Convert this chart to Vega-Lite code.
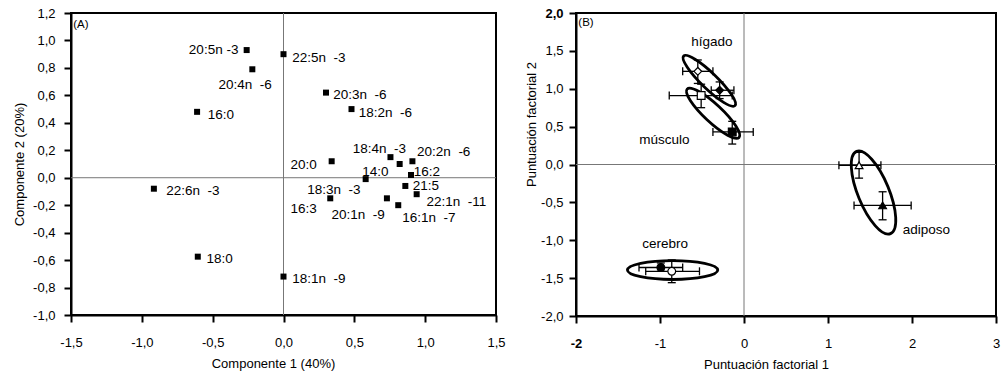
{
  "$schema": "https://vega.github.io/schema/vega-lite/v6.json",
  "padding": {"left": 12, "top": 6, "right": 2, "bottom": 2},
  "spacing": 17,
  "datasets": {
    "acidos": [
      {"acido": "20:5n -3", "c1": -0.26, "c2": 0.93, "lx": -0.668, "ly": 0.93},
      {"acido": "20:4n\u00a0 -6", "c1": -0.22, "c2": 0.79, "lx": -0.459, "ly": 0.678},
      {"acido": "22:5n\u00a0 -3", "c1": 0.0, "c2": 0.9, "lx": 0.061, "ly": 0.872},
      {"acido": "20:3n\u00a0 -6", "c1": 0.3, "c2": 0.62, "lx": 0.351, "ly": 0.605},
      {"acido": "18:2n\u00a0 -6", "c1": 0.48, "c2": 0.5, "lx": 0.531, "ly": 0.472},
      {"acido": "16:0", "c1": -0.61, "c2": 0.48, "lx": -0.534, "ly": 0.46},
      {"acido": "20:0", "c1": 0.34, "c2": 0.12, "lx": 0.049, "ly": 0.091},
      {"acido": "18:4n\u00a0 -3", "c1": 0.755, "c2": 0.15, "lx": 0.489, "ly": 0.212},
      {"acido": "14:0", "c1": 0.82, "c2": 0.1, "lx": 0.555, "ly": 0.04},
      {"acido": "20:2n\u00a0 -6", "c1": 0.91, "c2": 0.12, "lx": 0.943, "ly": 0.188},
      {"acido": "18:3n\u00a0 -3", "c1": 0.58, "c2": -0.01, "lx": 0.167, "ly": -0.086},
      {"acido": "16:2", "c1": 0.9, "c2": 0.02, "lx": 0.92, "ly": 0.043},
      {"acido": "21:5", "c1": 0.86, "c2": -0.06, "lx": 0.913, "ly": -0.057},
      {"acido": "22:1n\u00a0 -11", "c1": 0.94, "c2": -0.12, "lx": 1.009, "ly": -0.175},
      {"acido": "20:1n\u00a0 -9", "c1": 0.73, "c2": -0.15, "lx": 0.339, "ly": -0.273},
      {"acido": "16:1n\u00a0 -7", "c1": 0.81, "c2": -0.2, "lx": 0.838, "ly": -0.292},
      {"acido": "16:3", "c1": 0.33, "c2": -0.15, "lx": 0.049, "ly": -0.226},
      {"acido": "22:6n\u00a0 -3", "c1": -0.915, "c2": -0.08, "lx": -0.828, "ly": -0.098},
      {"acido": "18:0", "c1": -0.605, "c2": -0.575, "lx": -0.543, "ly": -0.59},
      {"acido": "18:1n\u00a0 -9", "c1": 0.0, "c2": -0.72, "lx": 0.061, "ly": -0.735}
    ],
    "factores": [
      {"tejido": "hígado", "grupo": "2", "f1": -0.55, "f2": 1.23, "f1lo": -0.73, "f1hi": -0.37, "f2lo": 1.07, "f2hi": 1.38},
      {"tejido": "hígado", "grupo": "1", "f1": -0.29, "f2": 0.98, "f1lo": -0.39, "f1hi": -0.12, "f2lo": 0.87, "f2hi": 1.09},
      {"tejido": "músculo", "grupo": "2", "f1": -0.51, "f2": 0.91, "f1lo": -0.89, "f1hi": -0.14, "f2lo": 0.75, "f2hi": 1.06},
      {"tejido": "músculo", "grupo": "1", "f1": -0.14, "f2": 0.43, "f1lo": -0.37, "f1hi": 0.11, "f2lo": 0.27, "f2hi": 0.57},
      {"tejido": "adiposo", "grupo": "2", "f1": 1.37, "f2": -0.01, "f1lo": 1.13, "f1hi": 1.63, "f2lo": -0.18, "f2hi": 0.16},
      {"tejido": "adiposo", "grupo": "1", "f1": 1.65, "f2": -0.54, "f1lo": 1.31, "f1hi": 1.99, "f2lo": -0.73, "f2hi": -0.36},
      {"tejido": "cerebro", "grupo": "1", "f1": -0.99, "f2": -1.36, "f1lo": -1.25, "f1hi": -0.73, "f2lo": -1.41, "f2hi": -1.3},
      {"tejido": "cerebro", "grupo": "2", "f1": -0.86, "f2": -1.41, "f1lo": -1.17, "f1hi": -0.53, "f2lo": -1.56, "f2hi": -1.26}
    ],
    "elipses": [
      {"tejido": "hígado", "f1": -0.413, "f2": 1.105},
      {"tejido": "músculo", "f1": -0.368, "f2": 0.676},
      {"tejido": "adiposo", "f1": 1.542, "f2": -0.37},
      {"tejido": "cerebro", "f1": -0.85, "f2": -1.393}
    ],
    "rotulosB": [
      {"texto": "hígado", "f1": -0.383, "f2": 1.622},
      {"texto": "músculo", "f1": -0.949, "f2": 0.323},
      {"texto": "adiposo", "f1": 2.17, "f2": -0.865},
      {"texto": "cerebro", "f1": -0.939, "f2": -1.053}
    ]
  },
  "hconcat": [
    {
      "width": 425,
      "height": 302,
      "layer": [
        {
          "data": {"values": [{"cero": 0}]},
          "mark": {"type": "rule", "color": "#777777", "strokeWidth": 1},
          "encoding": {
            "x": {"field": "cero", "type": "quantitative", "scale": {"domain": [-1.5, 1.5], "nice": false, "zero": false}}
          }
        },
        {
          "data": {"values": [{"cero": 0}]},
          "mark": {"type": "rule", "color": "#777777", "strokeWidth": 1},
          "encoding": {
            "y": {"field": "cero", "type": "quantitative", "scale": {"domain": [-1.0, 1.2], "nice": false, "zero": false}}
          }
        },
        {
          "data": {"name": "acidos"},
          "mark": {"type": "point", "shape": "square", "filled": true, "color": "black", "size": 36, "opacity": 1},
          "encoding": {
            "x": {
              "field": "c1", "type": "quantitative",
              "scale": {"domain": [-1.5, 1.5], "nice": false, "zero": false},
              "axis": {
                "title": "Componente 1 (40%)",
                "values": [-1.5, -1, -0.5, 0, 0.5, 1, 1.5],
                "tickCount": 20,
                "labelExpr": "replace(replace(format(datum.value, '.1f'), '.', ','), '\u2212', '-')",
                "labelPadding": 14,
                "titlePadding": 8,
                "titleX": 202
              }
            },
            "y": {
              "field": "c2", "type": "quantitative",
              "scale": {"domain": [-1.0, 1.2], "nice": false, "zero": false},
              "axis": {
                "title": "Componente 2 (20%)",
                "values": [-1, -0.8, -0.6, -0.4, -0.2, 0, 0.2, 0.4, 0.6, 0.8, 1, 1.2],
                "tickCount": 20,
                "labelExpr": "replace(replace(format(datum.value, '.1f'), '.', ','), '\u2212', '-')",
                "labelPadding": 9,
                "titlePadding": 6
              }
            }
          }
        },
        {
          "data": {"name": "acidos"},
          "mark": {"type": "text", "align": "left", "baseline": "middle", "fontSize": 13.5, "color": "black"},
          "encoding": {
            "x": {"field": "lx", "type": "quantitative"},
            "y": {"field": "ly", "type": "quantitative"},
            "text": {"field": "acido"}
          }
        },
        {
          "data": {"values": [{"panel": "(A)", "px": -1.484, "py": 1.114}]},
          "mark": {"type": "text", "align": "left", "baseline": "middle", "fontSize": 11.5, "color": "black"},
          "encoding": {
            "x": {"field": "px", "type": "quantitative"},
            "y": {"field": "py", "type": "quantitative"},
            "text": {"field": "panel"}
          }
        }
      ]
    },
    {
      "width": 420,
      "height": 303,
      "layer": [
        {
          "data": {"values": [{"cero": 0}]},
          "mark": {"type": "rule", "color": "#777777", "strokeWidth": 1},
          "encoding": {
            "x": {"field": "cero", "type": "quantitative", "scale": {"domain": [-2, 3], "nice": false, "zero": false}}
          }
        },
        {
          "data": {"values": [{"cero": 0}]},
          "mark": {"type": "rule", "color": "#777777", "strokeWidth": 1},
          "encoding": {
            "y": {"field": "cero", "type": "quantitative", "scale": {"domain": [-2, 2], "nice": false, "zero": false}}
          }
        },
        {
          "data": {"name": "elipses"},
          "transform": [{"filter": "datum.tejido == 'hígado'"}],
          "mark": {"type": "point", "shape": "M -1 0 A 1 0.22 0 1 1 1 0 A 1 0.22 0 1 1 -1 0 Z", "size": 5100, "angle": 44, "filled": false, "stroke": "black", "strokeWidth": 2.8, "opacity": 1},
          "encoding": {
            "x": {"field": "f1", "type": "quantitative"},
            "y": {"field": "f2", "type": "quantitative"}
          }
        },
        {
          "data": {"name": "elipses"},
          "transform": [{"filter": "datum.tejido == 'músculo'"}],
          "mark": {"type": "point", "shape": "M -1 0 A 1 0.25 0 1 1 1 0 A 1 0.25 0 1 1 -1 0 Z", "size": 5040, "angle": 43, "filled": false, "stroke": "black", "strokeWidth": 2.8, "opacity": 1},
          "encoding": {
            "x": {"field": "f1", "type": "quantitative"},
            "y": {"field": "f2", "type": "quantitative"}
          }
        },
        {
          "data": {"name": "elipses"},
          "transform": [{"filter": "datum.tejido == 'adiposo'"}],
          "mark": {"type": "point", "shape": "M -1 0 A 1 0.35 0 1 1 1 0 A 1 0.35 0 1 1 -1 0 Z", "size": 7920, "angle": 67.6, "filled": false, "stroke": "black", "strokeWidth": 2.8, "opacity": 1},
          "encoding": {
            "x": {"field": "f1", "type": "quantitative"},
            "y": {"field": "f2", "type": "quantitative"}
          }
        },
        {
          "data": {"name": "elipses"},
          "transform": [{"filter": "datum.tejido == 'cerebro'"}],
          "mark": {"type": "point", "shape": "M -1 0 A 1 0.21 0 1 1 1 0 A 1 0.21 0 1 1 -1 0 Z", "size": 8170, "angle": 0, "filled": false, "stroke": "black", "strokeWidth": 2.8, "opacity": 1},
          "encoding": {
            "x": {"field": "f1", "type": "quantitative"},
            "y": {"field": "f2", "type": "quantitative"}
          }
        },
        {
          "data": {"name": "factores"},
          "mark": {"type": "rule", "color": "black", "strokeWidth": 1.3},
          "encoding": {
            "x": {"field": "f1lo", "type": "quantitative"},
            "x2": {"field": "f1hi"},
            "y": {"field": "f2", "type": "quantitative"}
          }
        },
        {
          "data": {"name": "factores"},
          "mark": {"type": "rule", "color": "black", "strokeWidth": 1.3},
          "encoding": {
            "x": {"field": "f1", "type": "quantitative"},
            "y": {"field": "f2lo", "type": "quantitative"},
            "y2": {"field": "f2hi"}
          }
        },
        {
          "data": {"name": "factores"},
          "mark": {"type": "tick", "orient": "vertical", "size": 8, "thickness": 1.3, "color": "black", "opacity": 1},
          "encoding": {
            "x": {"field": "f1lo", "type": "quantitative"},
            "y": {"field": "f2", "type": "quantitative"}
          }
        },
        {
          "data": {"name": "factores"},
          "mark": {"type": "tick", "orient": "vertical", "size": 8, "thickness": 1.3, "color": "black", "opacity": 1},
          "encoding": {
            "x": {"field": "f1hi", "type": "quantitative"},
            "y": {"field": "f2", "type": "quantitative"}
          }
        },
        {
          "data": {"name": "factores"},
          "mark": {"type": "tick", "orient": "horizontal", "size": 8, "thickness": 1.3, "color": "black", "opacity": 1},
          "encoding": {
            "x": {"field": "f1", "type": "quantitative"},
            "y": {"field": "f2lo", "type": "quantitative"}
          }
        },
        {
          "data": {"name": "factores"},
          "mark": {"type": "tick", "orient": "horizontal", "size": 8, "thickness": 1.3, "color": "black", "opacity": 1},
          "encoding": {
            "x": {"field": "f1", "type": "quantitative"},
            "y": {"field": "f2hi", "type": "quantitative"}
          }
        },
        {
          "data": {"name": "factores"},
          "mark": {"type": "point", "filled": true, "stroke": "black", "strokeWidth": 1.2, "size": 60, "opacity": 1},
          "encoding": {
            "x": {
              "field": "f1", "type": "quantitative",
              "scale": {"domain": [-2, 3], "nice": false, "zero": false},
              "axis": {
                "title": "Puntuación factorial 1",
                "values": [-2, -1, 0, 1, 2, 3],
                "tickCount": 20,
                "labelExpr": "replace(format(datum.value, 'd'), '\u2212', '-')",
                "labelFontWeight": {"condition": {"test": "datum.value == -2", "value": "bold"}, "value": "normal"},
                "labelPadding": 14,
                "titlePadding": 8,
                "titleX": 190
              }
            },
            "y": {
              "field": "f2", "type": "quantitative",
              "scale": {"domain": [-2, 2], "nice": false, "zero": false},
              "axis": {
                "title": "Puntuación factorial 2",
                "values": [-2, -1.5, -1, -0.5, 0, 0.5, 1, 1.5, 2],
                "tickCount": 20,
                "labelExpr": "replace(replace(format(datum.value, '.1f'), '.', ','), '\u2212', '-')",
                "labelFontWeight": {"condition": {"test": "datum.value == 2", "value": "bold"}, "value": "normal"},
                "titleY": 111,
                "titlePadding": 2
              }
            },
            "shape": {
              "field": "tejido", "type": "nominal",
              "scale": {"domain": ["hígado", "músculo", "adiposo", "cerebro"], "range": ["diamond", "square", "triangle-up", "circle"]},
              "legend": null
            },
            "fill": {
              "field": "grupo", "type": "nominal",
              "scale": {"domain": ["1", "2"], "range": ["black", "white"]},
              "legend": null
            }
          }
        },
        {
          "data": {"name": "rotulosB"},
          "mark": {"type": "text", "align": "center", "baseline": "middle", "fontSize": 13.5, "color": "black"},
          "encoding": {
            "x": {"field": "f1", "type": "quantitative"},
            "y": {"field": "f2", "type": "quantitative"},
            "text": {"field": "texto"}
          }
        },
        {
          "data": {"values": [{"panel": "(B)", "px": -1.972, "py": 1.864}]},
          "mark": {"type": "text", "align": "left", "baseline": "middle", "fontSize": 11.5, "color": "black"},
          "encoding": {
            "x": {"field": "px", "type": "quantitative"},
            "y": {"field": "py", "type": "quantitative"},
            "text": {"field": "panel"}
          }
        }
      ]
    }
  ],
  "config": {
    "font": "Liberation Sans",
    "view": {"stroke": "black", "strokeWidth": 2},
    "axis": {
      "grid": false,
      "domainColor": "black",
      "domainWidth": 2,
      "tickColor": "black",
      "tickWidth": 2,
      "tickSize": 7,
      "labelPadding": 6,
      "labelFontSize": 13,
      "labelColor": "black",
      "labelFlush": false,
      "labelOverlap": false,
      "titleFontSize": 13,
      "titleFontWeight": "normal",
      "titleColor": "black",
      "titlePadding": 5
    }
  }
}
